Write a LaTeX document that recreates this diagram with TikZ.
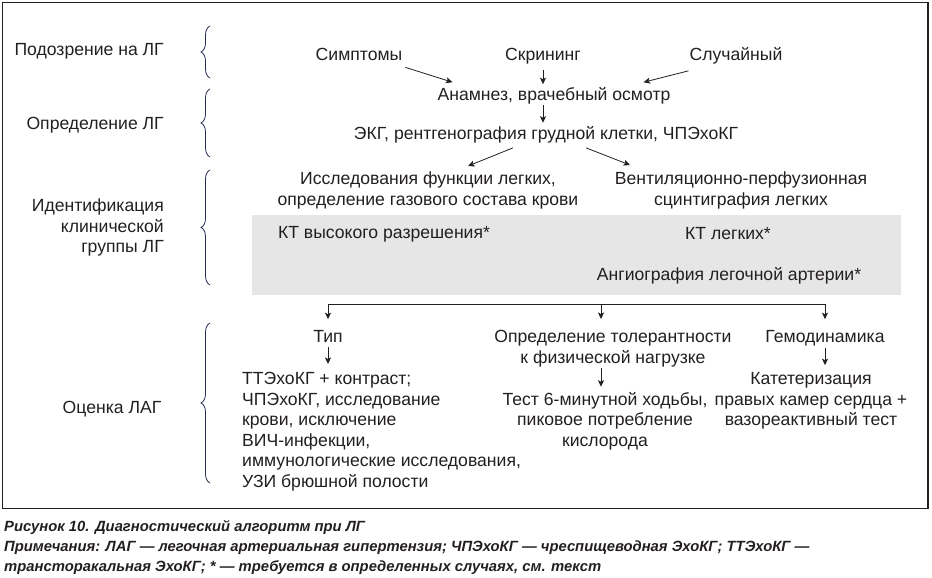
\documentclass[tikz,border=0pt]{standalone}
\usepackage{fontspec}
\setmainfont{Liberation Sans}
\usetikzlibrary{arrows.meta,decorations.pathreplacing}

\begin{document}
\begin{tikzpicture}[x=1pt, y=-1pt, font=\fontsize{17.6}{20.5}\selectfont, align=center, inner sep=0pt,
    txt/.style={anchor=base, text=dunkel},
    pfeil/.style={-{Stealth[length=6.5pt,width=6pt,inset=1.5pt]}, line width=0.8pt, draw=dunkel},
    klammer/.style={decorate, decoration={brace, amplitude=9pt}, draw=klammerblau, line width=0.8pt}]

    % Farben
    \definecolor{dunkel}{RGB}{35,31,32}
    \definecolor{klammerblau}{RGB}{35,45,80}
    \definecolor{hellgrau}{RGB}{230,230,231}

    % Rahmen und Hintergrund
    \useasboundingbox (0,0) rectangle (932,578);
    \draw[line width=1.3pt, draw=dunkel] (2.5,2.5) rectangle (928,508.5);
    \fill[hellgrau] (252,215) rectangle (901,295);

    % Klammern links
    \foreach \oben/\unten in {26/78, 89/157, 170/285, 323/483}
        \draw[klammer] (210,\unten) -- (210,\oben);

    % Stufen (base = letzte Zeile)
    \node[txt, anchor=base east] (stufe1) at (164,56) {Подозрение на ЛГ};
    \node[txt, anchor=base east] (stufe2) at (164,129) {Определение ЛГ};
    \node[txt, anchor=base east, align=right] (stufe3) at (164,252.5) {Идентификация\\клинической\\группы ЛГ};
    \node[txt] (stufe4) at (112,413) {Оценка ЛАГ};

    % Verdacht
    \node[txt] (symp) at (359,61) {Симптомы};
    \node[txt] (scr) at (543,61) {Скрининг};
    \node[txt] (zufall) at (736,61) {Случайный};
    \node[txt] (anam) at (554,100.5) {Анамнез, врачебный осмотр};
    \node[txt] (ekg) at (546,139) {ЭКГ, рентгенография грудной клетки, ЧПЭхоКГ};

    % Klinische Gruppe
    \node[txt] (lunge) at (428,205) {Исследования функции легких,\\определение газового состава крови};
    \node[txt] (szinti) at (741,205) {Вентиляционно-перфузионная\\сцинтиграфия легких};
    \node[txt] (kt1) at (384,238) {КТ высокого разрешения*};
    \node[txt] (kt2) at (728,239) {КТ легких*};
    \node[txt] (angio) at (729,280) {Ангиография легочной артерии*};

    % Bewertung
    \coordinate (gabel) at (601,304);
    \node[txt] (typ) at (328,342.5) {Тип};
    \node[txt] (toleranz) at (613,363) {Определение толерантности\\к физической нагрузке};
    \node[txt] (hemo) at (825,342.5) {Гемодинамика};
    \node[txt, anchor=base west, align=left] (liste) at (242,487) {ТТЭхоКГ + контраст;\\ЧПЭхоКГ, исследование\\крови, исключение\\ВИЧ-инфекции,\\иммунологические исследования,\\УЗИ брюшной полости};
    \node[txt] (gehtest) at (605,446) {Тест 6-минутной ходьбы,\\пиковое потребление\\кислорода};
    \node[txt] (kath) at (811,425.5) {Катетеризация\\правых камер сердца +\\вазореактивный тест};

    % Pfeile oben
    \draw[pfeil] ([xshift=3pt,yshift=-6pt]symp.south east) -- ([xshift=15pt,yshift=5pt]anam.north west);
    \draw[pfeil] ([yshift=-5pt]scr.south) -- ([yshift=3pt]scr.south |- anam.north);
    \draw[pfeil] ([xshift=-1pt,yshift=-6pt]zufall.south west) -- ([xshift=-27pt,yshift=5pt]anam.north east);
    \draw[pfeil] ([yshift=-1pt]anam.south -| scr) -- ([yshift=3pt]ekg.north -| scr);
    \draw[pfeil] ([xshift=-33pt,yshift=-5pt]ekg.south) -- ([xshift=40pt,yshift=5.5pt]lunge.north);
    \draw[pfeil] ([xshift=40pt,yshift=-5pt]ekg.south) -- ([xshift=-111pt,yshift=6.5pt]szinti.north);

    % Verzweigung
    \draw[line width=0.8pt, draw=dunkel] (gabel -| typ) -- (gabel -| hemo);
    \foreach \z in {typ, hemo}
        \draw[pfeil] (gabel -| \z) -- ([yshift=11pt]\z.north);
    \draw[pfeil] (gabel) -- ([yshift=11pt]toleranz.north -| gabel);
    \draw[pfeil] ([yshift=-4.5pt]typ.south) -- ([yshift=8pt]liste.north -| typ);
    \draw[pfeil] ([yshift=-1.5pt]toleranz.south -| gabel) -- ([yshift=5pt]gehtest.north -| gabel);
    \draw[pfeil] ([yshift=-2pt]hemo.south -| hemo) -- ([yshift=7pt]kath.north -| hemo);

    % Unterschrift
    \node[txt, anchor=base west, align=left, font=\fontsize{14.8}{20}\selectfont\bfseries\itshape] (titel) at (4,571.7)
        {Рисунок 10. Диагностический алгоритм при ЛГ\\Примечания: ЛАГ — легочная артериальная гипертензия; ЧПЭхоКГ — чреспищеводная ЭхоКГ; ТТЭхоКГ —\\трансторакальная ЭхоКГ; * — требуется в определенных случаях, см. текст};

\end{tikzpicture}
\end{document}
